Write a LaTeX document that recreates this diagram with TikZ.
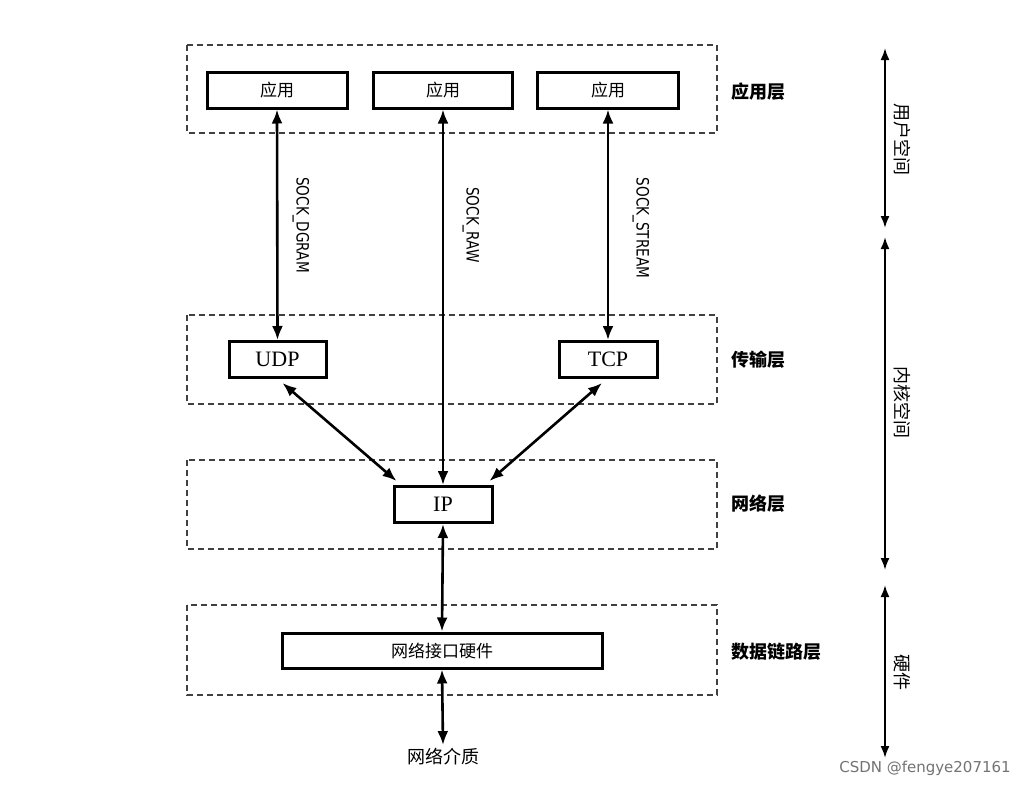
\documentclass[tikz,border=0pt]{standalone}
\usepackage{fontspec}
\setmainfont{Liberation Serif}
\newfontfamily\cjk{Noto Sans CJK SC}
\newfontfamily\sockfont[FakeStretch=0.8]{DejaVu Sans}
\newfontfamily\wmfont{DejaVu Sans}
\usetikzlibrary{arrows.meta}
\begin{document}
\begin{tikzpicture}[x=1pt,y=-1pt,
  layer/.style={draw=black!75, dash pattern=on 6pt off 4pt, line width=1.3pt},
  box/.style={draw, line width=3pt, inner sep=0pt, minimum height=36pt},
  cjkbox/.style={box, font=\cjk\fontsize{17}{17}\selectfont},
  latbox/.style={box, font=\fontsize{22}{22}\selectfont},
  arr/.style={{Latex[length=14pt,width=11pt]}-{Latex[length=14pt,width=11pt]}, line width=2.6pt},
  sarr/.style={{Latex[length=12pt,width=9pt]}-{Latex[length=12pt,width=9pt]}, line width=2pt},
  sock/.style={rotate=-90, font=\sockfont\fontsize{17}{17}\selectfont},
  layername/.style={font=\cjk\bfseries\fontsize{18}{18}\selectfont, anchor=west},
  space/.style={rotate=-90, font=\cjk\fontsize{18}{18}\selectfont},
  plain/.style={font=\cjk\fontsize{18}{18}\selectfont}
]
\useasboundingbox[fill=white] (0,0) rectangle (1029,787);

% layer frames
\draw[layer] (187,45) rectangle (717,133);
\draw[layer] (187,315) rectangle (717,404);
\draw[layer] (187,460) rectangle (717,549);
\draw[layer] (187,605) rectangle (717,695);

% boxes
\node[cjkbox, minimum width=140pt] (app1) at (277,90) {应用};
\node[cjkbox, minimum width=139pt] (app2) at (443,90) {应用};
\node[cjkbox, minimum width=141pt] (app3) at (608,90) {应用};
\node[latbox, minimum width=97pt] (udp) at (277.5,359.5) {UDP};
\node[latbox, minimum width=98pt] (tcp) at (608,359.5) {TCP};
\node[latbox, minimum width=98pt] (ip) at (443,504.5) {IP};
\node[cjkbox, minimum width=320pt, minimum height=35pt] (hw) at (442,650.5) {网络接口硬件};
\node[plain] (medium) at (443,757) {网络介质};

% connectors
\draw[arr] (app1.south) -- (udp.north);
\draw[arr] (app2.south) -- (ip.north);
\draw[arr] (app3.south) -- (tcp.north);
\draw[arr] ([shift={(5,4)}]udp.south) -- ([shift={(4,-4)}]ip.north west);
\draw[arr] ([shift={(-6,4)}]tcp.south) -- ([shift={(-4,-4)}]ip.north east);
\draw[arr] (ip.south) -- (hw.north);
\draw[arr] (hw.south) -- (medium.north);

% socket labels
\node[sock] (sdg) at (301,225) {SOCK\_DGRAM};
\node[sock] (sraw) at (471,225) {SOCK\_RAW};
\node[sock] (sst) at (641,228) {SOCK\_STREAM};

% layer names
\node[layername] (napp) at (728,92) {应用层};
\node[layername] (ntr) at (728,360) {传输层};
\node[layername] (nnet) at (728,504) {网络层};
\node[layername] (ndl) at (728,652) {数据链路层};

% space ranges
\coordinate (us1) at (885,48);
\coordinate (us2) at (885,228);
\coordinate (ks1) at (885,237);
\coordinate (ks2) at (885,570);
\coordinate (hs1) at (885,585);
\coordinate (hs2) at (885,758);
\draw[sarr] (us1) -- (us2);
\draw[sarr] (ks1) -- (ks2);
\draw[sarr] (hs1) -- (hs2);
\node[space] (lus) at (902,139) {用户空间};
\node[space] (lks) at (902,402) {内核空间};
\node[space] (lhs) at (902,672) {硬件};

% watermark
\node[font=\wmfont\fontsize{15}{15}\selectfont, text=black!55] (wm) at (925,768) {CSDN @fengye207161};
\end{tikzpicture}
\end{document}
